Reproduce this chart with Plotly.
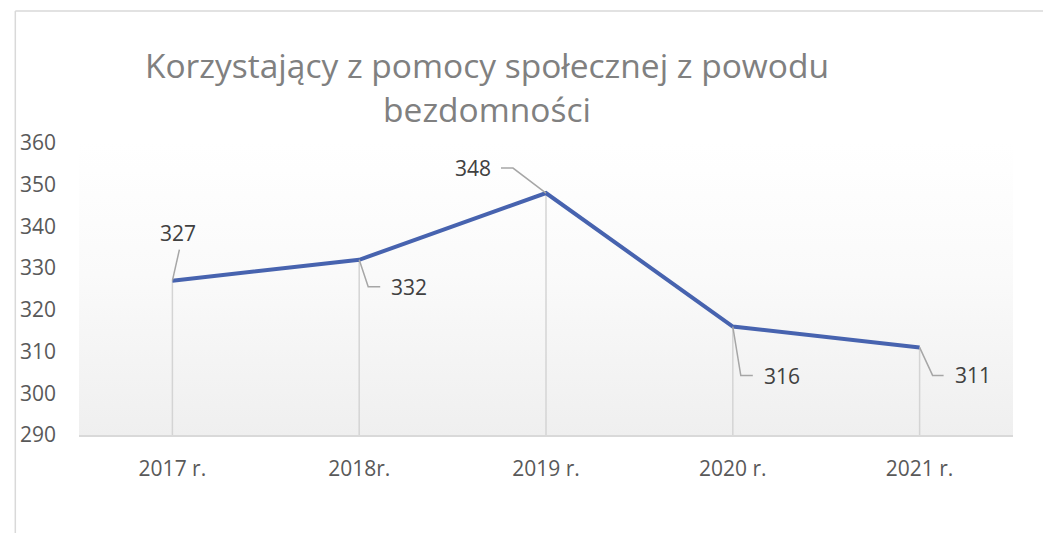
import plotly.graph_objects as go

categories = ["2017 r.", "2018r.", "2019 r.", "2020 r.", "2021 r."]
values = [327, 332, 348, 316, 311]
y_ticks = [290, 300, 310, 320, 330, 340, 350, 360]
title_text = "Korzystający z pomocy społecznej z powodu<br>bezdomności"

# label placement (pixel offsets from point): (xshift, yshift, xanchor, leader path)
label_pos = [
    (6, 48, "center", "M0,0 L7,31"),
    (30, -27, "left", "M0,0 L9,-27 L21,-27"),
    (-53, 25, "right", "M0,0 L-33,25 L-45,25"),
    (29, -49, "left", "M0,0 L8,-49 L20,-49"),
    (33, -28, "left", "M0,0 L13,-28 L24,-28"),
]

FONT = "Open Sans"
ymin, ymax = y_ticks[0], y_ticks[-1]
xs = list(range(len(categories)))

fig = go.Figure()

# gradient plot background
fig.add_trace(go.Scatter(
    x=[-0.5, len(categories) - 0.5, len(categories) - 0.5, -0.5, -0.5],
    y=[ymin, ymin, ymax, ymax, ymin],
    mode="lines", line=dict(width=0), fill="toself",
    fillgradient=dict(type="vertical", start=ymin, stop=ymax,
                      colorscale=[[0, "#efefef"], [0.55, "#fafafa"], [1, "#ffffff"]]),
    hoverinfo="skip", showlegend=False,
))

# drop lines
dx, dy = [], []
for i, v in zip(xs, values):
    dx += [i, i, None]
    dy += [v, ymin, None]
fig.add_trace(go.Scatter(x=dx, y=dy, mode="lines",
                         line=dict(color="#d4d4d4", width=1.5),
                         hoverinfo="skip", showlegend=False))

# main line
fig.add_trace(go.Scatter(x=xs, y=values, mode="lines",
                         line=dict(color="#4763AF", width=4),
                         showlegend=False))

for i, v, (xs_, ys_, xa, path) in zip(xs, values, label_pos):
    fig.add_annotation(x=i, y=v, text=str(v), showarrow=False,
                       xshift=xs_, yshift=ys_, xanchor=xa, yanchor="middle",
                       font=dict(family=FONT, size=21, color="#404040"))
    fig.add_shape(type="path", xref="x", yref="y",
                  xsizemode="pixel", ysizemode="pixel",
                  xanchor=i, yanchor=v, path=path,
                  line=dict(color="#a6a6a6", width=1.5))

# chart border (top and left visible)
fig.add_shape(type="line", xref="paper", yref="paper",
              x0=-0.0682, x1=1.2, y0=1.452, y1=1.452,
              line=dict(color="#d9d9d9", width=1.5))
fig.add_shape(type="line", xref="paper", yref="paper",
              x0=-0.0682, x1=-0.0682, y0=1.452, y1=-0.5,
              line=dict(color="#d9d9d9", width=1.5))

fig.update_layout(
    width=1051, height=533,
    margin=dict(l=66, r=46, t=135, b=106),
    paper_bgcolor="white", plot_bgcolor="white",
    title=dict(text=title_text, x=479 / 1051, xanchor="center", xref="container",
               y=1 - 70 / 533, yanchor="top", yref="container",
               font=dict(family=FONT, size=33.5, color="#808080")),
    xaxis=dict(range=[-0.5, len(categories) - 0.5], tickvals=xs, ticktext=categories,
               showgrid=False, zeroline=False, showline=True, linecolor="#d9d9d9",
               linewidth=1.5, ticks="", tickfont=dict(family=FONT, size=21, color="#595959"),
               ticklabelstandoff=14),
    yaxis=dict(range=[ymin, ymax], tickvals=y_ticks, showgrid=False, zeroline=False,
               showline=False, ticks="", ticklabelstandoff=22,
               tickfont=dict(family=FONT, size=21, color="#595959")),
)

fig.write_html("out.html")
